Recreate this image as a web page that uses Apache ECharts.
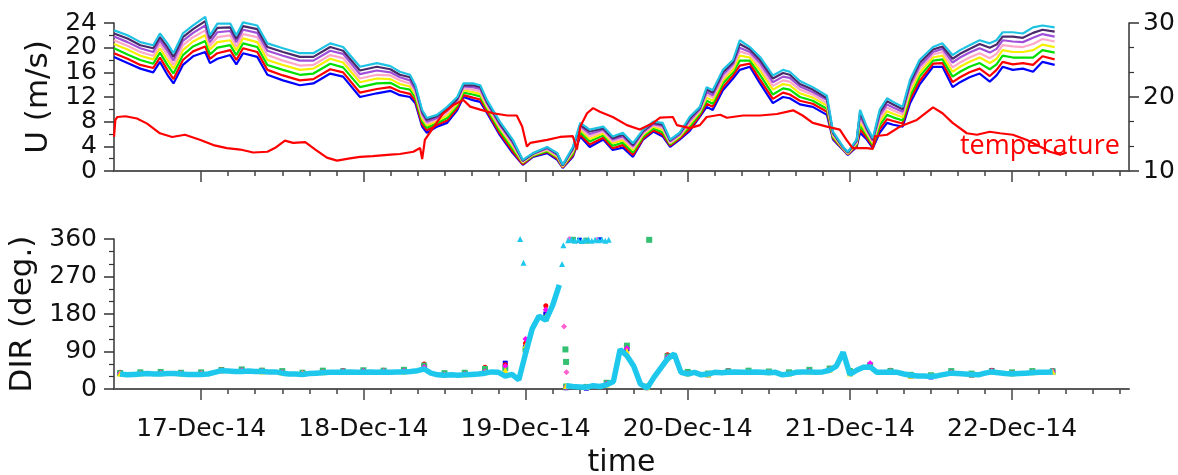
<!DOCTYPE html>
<html>
<head>
<meta charset="utf-8">
<script src="https://cdn.jsdelivr.net/npm/echarts@6/dist/echarts.min.js"></script>
<style>
html, body { margin: 0; padding: 0; background: #fff; }
#chart { width: 1178px; height: 475px; }
</style>
</head>
<body>
<div id="chart"></div>
<script>
var chart = echarts.init(document.getElementById('chart'));

// time in hours since 17-Dec-14 00:00
var uHours = [
	-12.9, -10.9, -9.0, -7.1, -6.1, -5.0, -4.1, -2.7, -1.2, 0.6,
	1.3, 2.4, 4.3, 5.2, 6.2, 8.3, 9.8, 12.1, 14.6, 16.6,
	19.1, 21.0, 23.5, 26.0, 28.0, 29.4, 30.9, 31.7, 32.7, 33.4,
	34.9, 36.4, 37.9, 38.8, 40.2, 41.3, 42.3, 44.2, 46.1, 47.6,
	49.1, 51.2, 52.7, 53.5, 55.0, 56.1, 57.5, 59.5, 60.9, 62.4,
	63.9, 65.4, 66.9, 68.3, 69.4, 70.8, 72.3, 73.8, 74.8, 75.7,
	77.2, 78.7, 79.7, 81.2, 82.7, 84.6, 86.1, 87.1, 88.6, 90.5,
	92.6, 93.5, 95.0, 95.7, 97.0, 97.5, 98.5, 99.4, 100.4, 101.5,
	102.4, 103.8, 104.9, 106.3, 108.3, 109.7, 111.2, 112.3, 113.7, 115.2,
	116.7, 117.7, 118.6, 120.1, 121.6, 123.1, 124.5, 126.3
];

// wind speed, one array per height (lowest first)
var uBlue = [
	18.5, 17.5, 16.6, 16.0, 17.7, 15.6, 14.2, 17.2, 18.6, 19.3,
	17.5, 18.2, 18.8, 17.3, 19.1, 18.5, 15.6, 14.7, 13.9, 14.2,
	15.8, 15.3, 12.0, 12.6, 13.0, 12.3, 12.0, 11.0, 7.2, 6.2,
	7.2, 7.8, 9.9, 12.0, 11.5, 11.2, 9.4, 5.8, 2.9, 1.0,
	2.3, 2.9, 1.8, 0.5, 2.3, 5.6, 3.9, 5.1, 3.4, 3.8,
	2.3, 5.1, 6.4, 5.6, 3.9, 5.1, 6.5, 8.8, 10.4, 9.9,
	13.1, 15.0, 16.4, 16.9, 14.2, 11.0, 12.0, 11.8, 10.8, 10.4,
	9.1, 5.1, 3.4, 2.6, 3.9, 6.2, 5.1, 3.7, 6.2, 7.8,
	7.5, 7.2, 11.0, 14.0, 16.9, 16.9, 13.6, 14.4, 15.2, 15.8,
	14.5, 15.5, 16.9, 16.4, 16.6, 16.1, 17.7, 17.2
];
var uRed = [
	19.1, 18.2, 17.2, 16.7, 18.4, 16.4, 14.9, 18.0, 19.4, 20.2,
	18.2, 19.1, 19.6, 18.0, 19.9, 19.3, 16.4, 15.5, 14.7, 14.9,
	16.5, 16.0, 12.7, 13.3, 13.6, 12.9, 12.5, 11.4, 7.6, 6.6,
	7.5, 8.2, 10.2, 12.3, 11.9, 11.6, 9.7, 6.1, 3.2, 1.1,
	2.4, 3.1, 2.0, 0.6, 2.5, 5.9, 4.3, 5.4, 3.7, 4.2,
	2.6, 5.3, 6.6, 5.9, 4.1, 5.3, 6.8, 9.0, 10.9, 10.4,
	13.6, 15.5, 17.1, 17.4, 14.8, 11.7, 12.7, 12.4, 11.4, 10.9,
	9.6, 5.3, 3.5, 2.7, 4.1, 6.8, 5.4, 3.9, 6.8, 8.4,
	8.1, 7.7, 11.6, 14.6, 17.4, 17.5, 14.4, 15.2, 16.0, 16.6,
	15.4, 16.4, 17.7, 17.3, 17.5, 17.2, 18.6, 18.1
];
var uGreen = [
	19.9, 18.9, 18.0, 17.4, 19.2, 17.2, 15.8, 18.8, 20.2, 21.1,
	18.9, 20.0, 20.4, 18.8, 20.7, 20.1, 17.2, 16.4, 15.6, 15.8,
	17.4, 16.8, 13.6, 14.2, 14.3, 13.5, 13.2, 11.9, 8.1, 7.0,
	7.8, 8.6, 10.6, 12.7, 12.4, 12.1, 10.1, 6.5, 3.6, 1.3,
	2.5, 3.2, 2.2, 0.7, 2.8, 6.3, 4.8, 5.8, 4.1, 4.6,
	3.0, 5.6, 6.9, 6.3, 4.3, 5.5, 7.2, 9.3, 11.4, 10.9,
	14.2, 16.0, 17.9, 17.9, 15.6, 12.4, 13.4, 13.2, 12.0, 11.4,
	10.1, 5.5, 3.6, 2.8, 4.3, 7.4, 5.8, 4.2, 7.4, 9.1,
	8.7, 8.2, 12.2, 15.3, 17.9, 18.1, 15.3, 16.1, 16.9, 17.5,
	16.5, 17.3, 18.7, 18.4, 18.4, 18.4, 19.6, 19.2
];
var uYellow = [
	20.6, 19.7, 18.7, 18.1, 19.9, 18.0, 16.6, 19.6, 21.0, 22.0,
	19.7, 20.9, 21.2, 19.6, 21.5, 20.9, 18.0, 17.2, 16.4, 16.6,
	18.2, 17.6, 14.4, 15.0, 14.9, 14.1, 13.7, 12.4, 8.5, 7.4,
	8.1, 9.0, 10.9, 13.1, 12.8, 12.5, 10.4, 6.9, 4.0, 1.4,
	2.6, 3.4, 2.3, 0.7, 3.1, 6.7, 5.2, 6.1, 4.5, 5.0,
	3.4, 5.9, 7.2, 6.7, 4.5, 5.6, 7.6, 9.6, 11.9, 11.4,
	14.7, 16.4, 18.7, 18.4, 16.3, 13.2, 14.1, 13.9, 12.6, 11.9,
	10.6, 5.7, 3.6, 2.8, 4.5, 8.0, 6.1, 4.5, 8.0, 9.7,
	9.3, 8.7, 12.8, 15.9, 18.4, 18.7, 16.1, 16.9, 17.7, 18.4,
	17.5, 18.2, 19.6, 19.3, 19.3, 19.6, 20.5, 20.1
];
var uPink = [
	21.2, 20.3, 19.3, 18.7, 20.6, 18.8, 17.2, 20.4, 21.7, 22.8,
	20.3, 21.7, 22.0, 20.2, 22.2, 21.7, 18.8, 17.9, 17.1, 17.2,
	18.8, 18.3, 15.0, 15.6, 15.5, 14.7, 14.2, 12.8, 8.9, 7.7,
	8.4, 9.4, 11.2, 13.4, 13.2, 12.9, 10.7, 7.2, 4.3, 1.5,
	2.7, 3.5, 2.5, 0.8, 3.3, 7.0, 5.6, 6.4, 4.8, 5.3,
	3.7, 6.1, 7.4, 7.0, 4.6, 5.8, 7.9, 9.8, 12.4, 11.9,
	15.1, 16.9, 19.4, 18.9, 16.9, 13.8, 14.7, 14.5, 13.2, 12.4,
	11.0, 5.9, 3.7, 2.9, 4.6, 8.5, 6.4, 4.7, 8.5, 10.3,
	9.8, 9.2, 13.4, 16.5, 18.9, 19.3, 16.8, 17.6, 18.4, 19.1,
	18.3, 19.0, 20.4, 20.2, 20.1, 20.6, 21.4, 21.0
];
var uViolet = [
	21.8, 20.9, 19.9, 19.3, 21.2, 19.5, 17.9, 21.1, 22.4, 23.6,
	20.9, 22.5, 22.7, 20.9, 22.9, 22.4, 19.5, 18.7, 17.9, 17.9,
	19.5, 19.0, 15.7, 16.3, 16.0, 15.2, 14.7, 13.2, 9.3, 8.0,
	8.6, 9.8, 11.5, 13.7, 13.6, 13.3, 11.0, 7.5, 4.6, 1.6,
	2.8, 3.7, 2.6, 0.9, 3.5, 7.3, 6.0, 6.7, 5.1, 5.6,
	4.0, 6.3, 7.6, 7.3, 4.8, 5.9, 8.2, 10.0, 12.8, 12.3,
	15.6, 17.3, 20.0, 19.3, 17.5, 14.4, 15.3, 15.1, 13.7, 12.8,
	11.5, 6.1, 3.8, 3.0, 4.8, 9.0, 6.7, 4.9, 9.0, 10.8,
	10.3, 9.6, 13.9, 17.0, 19.3, 19.8, 17.6, 18.4, 19.2, 19.9,
	19.2, 19.8, 21.2, 21.0, 20.9, 21.6, 22.2, 21.8
];
var uDark = [
	22.3, 21.5, 20.4, 19.9, 21.7, 20.1, 18.5, 21.7, 23.0, 24.3,
	21.5, 23.2, 23.3, 21.4, 23.5, 23.0, 20.1, 19.3, 18.5, 18.5,
	20.1, 19.5, 16.3, 16.9, 16.5, 15.6, 15.2, 13.6, 9.6, 8.3,
	8.9, 10.1, 11.7, 13.9, 13.9, 13.6, 11.2, 7.7, 4.8, 1.7,
	2.8, 3.8, 2.8, 0.9, 3.7, 7.5, 6.4, 6.9, 5.3, 5.9,
	4.2, 6.5, 7.8, 7.5, 5.0, 6.1, 8.5, 10.2, 13.2, 12.7,
	16.0, 17.6, 20.6, 19.7, 18.0, 15.0, 15.9, 15.6, 14.1, 13.2,
	11.8, 6.2, 3.8, 3.0, 5.0, 9.5, 6.9, 5.1, 9.5, 11.3,
	10.8, 10.0, 14.3, 17.5, 19.7, 20.2, 18.2, 19.0, 19.8, 20.6,
	20.0, 20.5, 21.8, 21.8, 21.6, 22.4, 22.9, 22.6
];
var uCyan = [
	22.8, 22.0, 20.9, 20.4, 22.3, 20.7, 19.1, 22.3, 23.6, 25.0,
	22.0, 23.9, 23.9, 22.0, 24.1, 23.6, 20.7, 19.9, 19.1, 19.1,
	20.7, 20.1, 16.9, 17.5, 17.0, 16.1, 15.6, 13.9, 9.9, 8.6,
	9.1, 10.4, 12.0, 14.2, 14.2, 13.9, 11.5, 8.0, 5.1, 1.8,
	2.9, 3.9, 2.9, 1.0, 3.9, 7.8, 6.7, 7.2, 5.6, 6.2,
	4.5, 6.7, 8.0, 7.8, 5.1, 6.2, 8.8, 10.4, 13.6, 13.1,
	16.4, 18.0, 21.2, 20.1, 18.5, 15.5, 16.4, 16.1, 14.6, 13.6,
	12.2, 6.4, 3.9, 3.1, 5.1, 9.9, 7.2, 5.3, 9.9, 11.8,
	11.2, 10.4, 14.8, 18.0, 20.1, 20.7, 18.8, 19.6, 20.4, 21.2,
	20.7, 21.2, 22.5, 22.5, 22.3, 23.3, 23.6, 23.3
];

// temperature (right axis)
var tempHours = [
	-12.9, -12.7, -12.4, -11.2, -9.5, -8.0, -6.1, -4.3, -2.4, -0.1,
	1.8, 3.8, 5.8, 7.7, 9.8, 10.9, 12.4, 13.6, 15.4, 16.9,
	18.6, 20.1, 22.0, 23.5, 25.4, 28.0, 29.4, 31.4, 32.4, 32.7,
	33.0, 33.1, 34.3, 35.8, 37.3, 38.8, 39.8, 41.3, 43.2, 45.3,
	46.7, 47.5, 48.2, 48.7, 51.2, 53.1, 55.0, 55.6, 56.1, 57.1,
	58.0, 59.0, 60.9, 63.0, 64.9, 66.9, 67.9, 69.8, 70.4, 72.3,
	73.8, 74.8, 76.8, 77.8, 80.2, 82.7, 85.2, 87.6, 89.0, 90.5,
	92.6, 94.5, 95.5, 96.4, 98.5, 99.4, 99.7, 101.5, 103.4, 105.9,
	108.3, 109.7, 111.2, 113.3, 114.8, 116.7, 118.2, 120.1, 122.2, 124.1,
	125.6, 127.1, 128.1
];
var tempValues = [
	14.6, 16.9, 17.3, 17.4, 17.1, 16.4, 15.1, 14.6, 14.9, 14.2,
	13.5, 13.1, 12.9, 12.5, 12.6, 13.1, 14.1, 13.8, 13.9, 12.9,
	11.8, 11.4, 11.7, 11.9, 12.0, 12.2, 12.3, 12.6, 13.1, 11.6,
	13.5, 14.2, 15.8, 17.8, 18.9, 19.6, 18.7, 18.3, 17.8, 17.5,
	17.5, 16.0, 13.3, 13.8, 14.2, 14.6, 14.7, 12.9, 16.0, 17.8,
	18.5, 18.0, 17.3, 16.2, 15.6, 16.5, 17.2, 17.3, 16.2, 15.8,
	16.2, 17.3, 17.6, 17.2, 17.5, 17.5, 17.7, 18.2, 17.5, 16.5,
	16.0, 15.6, 14.2, 13.1, 13.1, 13.0, 14.7, 14.9, 16.0, 16.9,
	18.6, 17.8, 16.5, 15.1, 14.9, 15.3, 15.1, 14.9, 14.2, 13.3,
	12.6, 12.2, 12.5
];

// wind direction, cyan: hourly from -12 h
var dirCyan = [
	36, 34, 35, 36, 37, 36, 36, 37, 37, 36,
	35, 35, 35, 36, 40, 44, 43, 42, 42, 43,
	42, 42, 41, 41, 38, 36, 36, 35, 37, 38,
	39, 40, 40, 40, 41, 40, 40, 41, 40, 41,
	40, 41, 41, 42, 44, 48, 38, 34, 33, 34,
	33, 34, 35, 36, 38, 41, 40, 31, 35, 22,
	85, 145, 175, 165, 200, 250, 8, 6, 5, 4,
	8, 6, 10, 18, 95, 80, 55, 12, 2, 28,
	50, 72, 84, 40, 36, 40, 34, 36, 40, 39,
	40, 41, 40, 40, 41, 40, 39, 40, 34, 36,
	40, 41, 41, 40, 41, 45, 55, 88, 35, 45,
	52, 53, 40, 40, 41, 40, 36, 33, 31, 31,
	30, 32, 35, 38, 37, 36, 35, 34, 38, 41,
	39, 37, 36, 37, 38, 39, 40, 40, 41
];
// other heights: every 3 h from -12 h
var dirBlue = [
	39, 38, 40, 37, 38, 46, 45, 44, 41, 38, 42, 43, 43, 44, 44, 55, 36, 37, 45, 62,
	100, 180, 3, 2, 12, 96, 5, 80, 39, 34, 43, 42, 40, 38, 44, 48, 41, 56, 44, 31,
	29, 41, 33, 44, 37, 41, 43
];
var dirRed = [
	40, 39, 41, 38, 39, 47, 46, 45, 42, 40, 43, 44, 44, 45, 45, 60, 37, 38, 52, 58,
	110, 200, 4, 3, 14, 100, 4, 82, 40, 36, 44, 43, 41, 39, 45, 50, 42, 58, 45, 33,
	31, 42, 36, 45, 39, 42, 44
];
var dirGreen = [
	38, 40, 41, 39, 40, 45, 47, 44, 43, 39, 44, 42, 45, 44, 46, 56, 38, 39, 48, 50,
	95, 170, 6, 5, 15, 104, 6, 78, 41, 37, 42, 44, 42, 40, 46, 49, 43, 57, 43, 34,
	33, 43, 37, 42, 40, 43, 42
];
var dirMagenta = [
	37, 38, 39, 38, 38, 44, 45, 43, 40, 38, 41, 42, 43, 43, 44, 53, 35, 36, 42, 55,
	120, 190, 5, 4, 13, 98, 3, 76, 38, 35, 41, 41, 40, 37, 43, 47, 40, 62, 42, 32,
	30, 40, 34, 43, 38, 40, 42
];
var dirYellow = [
	37, 37, 38, 37, 37, 45, 43, 42, 39, 38, 40, 41, 41, 42, 42, 50, 34, 35, 40, 45,
	105, 175, 7, 5, 11, 92, 4, 74, 37, 35, 41, 41, 40, 37, 42, 46, 37, 54, 42, 32,
	31, 39, 35, 42, 37, 40, 42
];
// points near the 0/360 wrap on 19-Dec: [hour, deg]
var wrapCyan = [[47.2, 360], [47.7, 303], [53.4, 300], [53.6, 345], [54.3, 357], [54.8, 359], [55.3, 356], [55.8, 358],
	[56.3, 355], [56.8, 357], [57.3, 359], [57.8, 356], [58.3, 358], [58.8, 357], [59.3, 359], [59.8, 356], [60.3, 358]];
var wrapGreen = [[53.9, 95], [54.0, 65], [55.0, 358], [57.0, 356], [66.3, 358]];
var wrapMagenta = [[53.7, 150], [54.05, 40], [54.5, 360], [58.5, 357]];
var wrapBlue = [[56.0, 357], [59.0, 358]];

var dayTicks = [0, 24, 48, 72, 96, 120];
var minorTicks = [0, 4, 8, 12, 16, 20, 24, 28, 32, 36, 40, 44, 48, 52, 56, 60, 64, 68, 72, 76, 80, 84, 88, 92,
	96, 100, 104, 108, 112, 116, 120, 124, 128, 132, 136];
var uLabelsA = [0, 8, 16, 24];
var uLabelsB = [4, 12, 20];

var xMin = -12.9, xMax = 137.3;
var tickFont = { fontFamily: 'DejaVu Sans', fontSize: 25, color: '#111' };
var nameFont = { fontFamily: 'DejaVu Sans', fontSize: 31, color: '#111' };
var axisCol = '#333';

function pairs(xs, ys) {
	return ys.map(function (v, i) { return [xs[i], v]; });
}
function grid(step, arr) {
	return arr.map(function (v, i) { return [-12 + step * i, v]; });
}

function timeAxis(gi, labels) {
	return {
		type: 'value', gridIndex: gi, min: xMin, max: xMax,
		axisLine: { onZero: false, lineStyle: { color: '#5a5a5a', width: 2 } },
		axisTick: { customValues: dayTicks, length: 11, lineStyle: { color: '#444', width: 1.5 } },
		axisLabel: labels ? Object.assign({
			customValues: dayTicks, margin: 28,
			formatter: function (v) { return (17 + Math.round(v / 24)) + '-Dec-14'; }
		}, tickFont) : { show: false },
		splitLine: { show: false }
	};
}
function minorAxis(gi) {
	return {
		type: 'value', gridIndex: gi, min: xMin, max: xMax, position: 'bottom', offset: 0,
		axisLine: { show: false, onZero: false },
		axisTick: { customValues: minorTicks, length: 5, lineStyle: { color: '#444', width: 1.5 } },
		axisLabel: { show: false },
		splitLine: { show: false }
	};
}
function valAxis(gi, min, max, interval, minorSplit, extra) {
	return Object.assign({
		type: 'value', gridIndex: gi, min: min, max: max, interval: interval,
		axisLine: { show: true, onZero: false, lineStyle: { color: axisCol, width: 1.5 } },
		axisTick: { show: true, length: 10, lineStyle: { color: axisCol, width: 1.5 } },
		minorTick: { show: true, splitNumber: minorSplit, length: 5, lineStyle: { color: axisCol, width: 1.2 } },
		axisLabel: Object.assign({ margin: 17, showMinLabel: true, showMaxLabel: true }, tickFont),
		splitLine: { show: false }
	}, extra);
}

var xAxes = [timeAxis(0, false), minorAxis(0), timeAxis(1, true), minorAxis(1)];
xAxes[2].name = 'time';
xAxes[2].nameLocation = 'middle';
xAxes[2].nameGap = 59;
xAxes[2].nameTextStyle = { fontFamily: 'DejaVu Sans', fontSize: 30, color: '#111' };

var uSeries = [
	['#0000FF', uBlue], ['#FF0000', uRed], ['#00E000', uGreen], ['#F5F000', uYellow],
	['#FFA8C8', uPink], ['#A050D8', uViolet], ['#4A2A6A', uDark], ['#1EC3E3', uCyan]
].map(function (s) {
	return {
		type: 'line', xAxisIndex: 0, yAxisIndex: 0, showSymbol: false, clip: false,
		data: pairs(uHours, s[1]),
		lineStyle: { color: s[0], width: 2.2 }, itemStyle: { color: s[0] }
	};
});

var tempSeries = {
	type: 'line', xAxisIndex: 0, yAxisIndex: 1, showSymbol: false,
	data: pairs(tempHours, tempValues),
	lineStyle: { color: '#FF0000', width: 2.2 }, itemStyle: { color: '#FF0000' }, z: 5
};

function dots(color, symbol, size, data) {
	return {
		type: 'scatter', xAxisIndex: 2, yAxisIndex: 2, data: data, clip: false,
		symbol: symbol, symbolSize: size, itemStyle: { color: color, opacity: 1 }
	};
}

// cyan band drawn as a thick line, broken where the direction wraps past 360
var cyanBand = grid(1, dirCyan);
cyanBand.splice(66, 0, [53.5, null]);

var dirSeries = [
	dots('#0000FF', 'rect', 5, grid(3, dirBlue)),
	dots('#FF0000', 'circle', 5, grid(3, dirRed)),
	dots('#33C070', 'rect', 6, grid(3, dirGreen)),
	dots('#FF00FF', 'diamond', 6, grid(3, dirMagenta)),
	dots('#FFE800', 'triangle', 6, grid(3, dirYellow)),
	dots('#0000FF', 'rect', 5, wrapBlue),
	dots('#33C070', 'rect', 6, wrapGreen),
	dots('#FF60D0', 'diamond', 6, wrapMagenta),
	{
		type: 'line', xAxisIndex: 2, yAxisIndex: 2, data: cyanBand, connectNulls: false,
		showSymbol: false, lineStyle: { color: '#1EC8EC', width: 5.5 }, itemStyle: { color: '#1EC8EC' }
	},
	dots('#1EC8EC', 'triangle', 6, wrapCyan)
];

// left U axis: labels split over two overlaid axes so that none get hidden
var uAxisA = valAxis(0, 0, 24, 4, 2, { name: 'U (m/s)', nameLocation: 'middle', nameGap: 56, nameTextStyle: nameFont });
uAxisA.axisLabel.customValues = uLabelsA;
var uAxisB = {
	type: 'value', gridIndex: 0, min: 0, max: 24, position: 'left', offset: 0,
	axisLine: { show: false, onZero: false }, axisTick: { show: false },
	axisLabel: Object.assign({ margin: 17, customValues: uLabelsB }, tickFont),
	splitLine: { show: false }
};

var option = {
	animation: false,
	backgroundColor: '#fff',
	grid: [
		{ left: 114, right: 49, top: 23, height: 148, outerBoundsMode: 'none' },
		{ left: 114, right: 49, top: 239, height: 150, outerBoundsMode: 'none' }
	],
	xAxis: xAxes,
	yAxis: [
		uAxisA,
		valAxis(0, 10, 30, 10, 3, { position: 'right', axisLabel: Object.assign({ margin: 14, showMinLabel: true, showMaxLabel: true }, tickFont) }),
		valAxis(1, 0, 360, 90, 3, { name: 'DIR (deg.)', nameLocation: 'middle', nameGap: 70, nameTextStyle: nameFont }),
		uAxisB
	],
	graphic: [{
		type: 'text', left: 960, top: 133, z: 10,
		style: { text: 'temperature', fill: '#FF0000', font: '27px "Open Sans"' }
	}],
	series: uSeries.concat([tempSeries]).concat(dirSeries)
};

chart.setOption(option);
</script>
</body>
</html>
